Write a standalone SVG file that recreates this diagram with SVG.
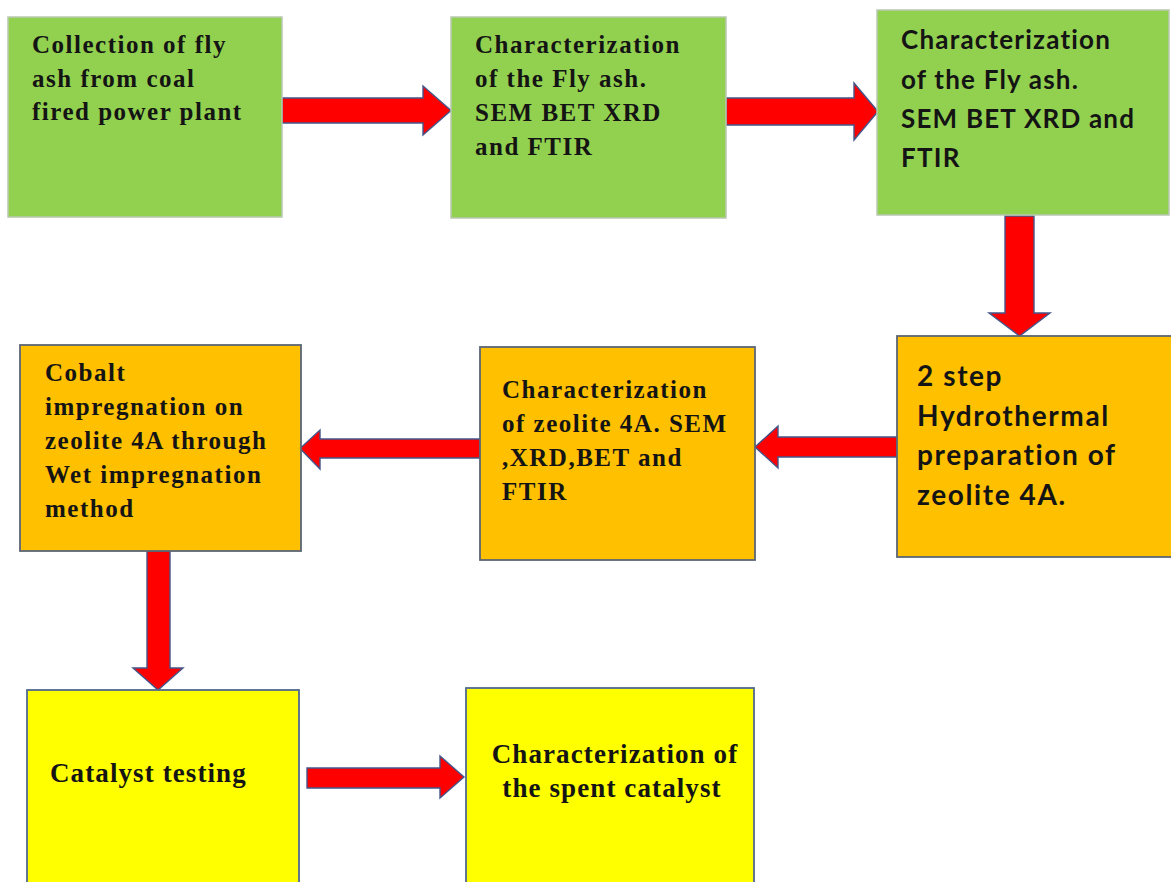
<svg xmlns="http://www.w3.org/2000/svg" width="1171" height="882" viewBox="0 0 1171 882">
<style>
.green{fill:#92d050;stroke:#b9c9b0;stroke-width:1.5}
.orange{fill:#ffc000;stroke:#5b6575;stroke-width:1.8}
.yellow{fill:#ffff00;stroke:#50698f;stroke-width:1.8}
.arrow{fill:#ff0000;stroke:#44558a;stroke-width:1.4;stroke-linejoin:miter}
.serif{font-family:"Liberation Serif","Times New Roman",serif;font-weight:bold;font-size:25px;letter-spacing:1.5px;fill:#141414}
.serif2{font-family:"Liberation Serif","Times New Roman",serif;font-weight:bold;font-size:27px;letter-spacing:1.1px;fill:#141414}
.sans{font-family:Lato,"Liberation Sans",sans-serif;font-weight:bold;font-size:26px;letter-spacing:1.2px;fill:#141414}
.sans2{font-family:Lato,"Liberation Sans",sans-serif;font-weight:bold;font-size:28px;letter-spacing:1.6px;fill:#141414}
</style>
<rect width="1171" height="882" fill="#ffffff"/>
<g id="connectors">
<polygon class="arrow" points="282,98 423,98 423,86 451,110.5 423,135 423,123 282,123"/>
<polygon class="arrow" points="726,98 854,98 854,83 878,111.5 854,140 854,125 726,125"/>
<polygon class="arrow" points="1005,216 1034,216 1034,313 1050,313 1019.5,336 989,313 1005,313"/>
<polygon class="arrow" points="897,437 778,437 778,426 755,447 778,468 778,457 897,457"/>
<polygon class="arrow" points="480,439 320,439 320,430 300,448.5 320,469 320,458 480,458"/>
<polygon class="arrow" points="147,551 170,551 170,668 183,668 158,690 133,668 147,668"/>
<polygon class="arrow" points="307,768 440,768 440,756 464,777 440,798 440,788 307,788"/>
</g>
<g id="node1">
<rect class="green" x="8" y="17" width="274" height="200"/>
<text class="serif" x="32" y="53">Collection of fly</text>
<text class="serif" x="32" y="87">ash from coal</text>
<text class="serif" x="32" y="120">fired power plant</text>
</g>
<g id="node2">
<rect class="green" x="451" y="17" width="275" height="201"/>
<text class="serif" x="475" y="53">Characterization</text>
<text class="serif" x="475" y="87">of the Fly ash.</text>
<text class="serif" x="475" y="121">SEM BET XRD</text>
<text class="serif" x="475" y="155">and FTIR</text>
</g>
<g id="node3">
<rect class="green" x="877" y="10" width="292" height="205"/>
<text class="sans" x="901" y="49">Characterization</text>
<text class="sans" x="901" y="89">of the Fly ash.</text>
<text class="sans" x="901" y="128">SEM BET XRD and</text>
<text class="sans" x="901" y="167">FTIR</text>
</g>
<g id="node4">
<rect class="orange" x="897" y="336" width="280" height="221"/>
<text class="sans2" x="917" y="386">2 step</text>
<text class="sans2" x="917" y="426">Hydrothermal</text>
<text class="sans2" x="917" y="465">preparation of</text>
<text class="sans2" x="917" y="505">zeolite 4A.</text>
</g>
<g id="node5">
<rect class="orange" x="480" y="347" width="275" height="213"/>
<text class="serif" x="502" y="398">Characterization</text>
<text class="serif" x="502" y="432">of zeolite 4A. SEM</text>
<text class="serif" x="502" y="466">,XRD,BET and</text>
<text class="serif" x="502" y="500">FTIR</text>
</g>
<g id="node6">
<rect class="orange" x="20" y="345" width="281" height="206"/>
<text class="serif" x="45" y="381">Cobalt</text>
<text class="serif" x="45" y="415">impregnation on</text>
<text class="serif" x="45" y="449">zeolite 4A through</text>
<text class="serif" x="45" y="483">Wet impregnation</text>
<text class="serif" x="45" y="517">method</text>
</g>
<g id="node7">
<rect class="yellow" x="27" y="690" width="272" height="210"/>
<text class="serif2" x="50" y="782">Catalyst testing</text>
</g>
<g id="node8">
<rect class="yellow" x="466" y="688" width="288" height="210"/>
<text class="serif2" x="615" y="763" text-anchor="middle">Characterization of</text>
<text class="serif2" x="612" y="797" text-anchor="middle">the spent catalyst</text>
</g>
</svg>
